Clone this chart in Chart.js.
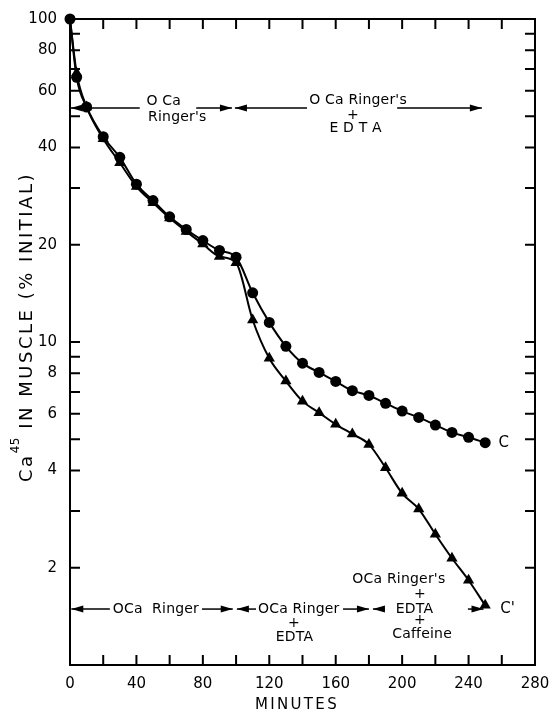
<!DOCTYPE html>
<html>
<head>
<meta charset="utf-8">
<script src="https://cdn.jsdelivr.net/npm/chart.js@4"></script>
<style>
html, body { margin: 0; padding: 0; background: #fff; }
#wrap { width: 552px; height: 713px; position: relative; }
</style>
</head>
<body>
<div id="wrap"><canvas id="chart"></canvas></div>
<script>
// time points (minutes) shared by both curves
const minutes = [0, 4, 10, 20, 30, 40, 50, 60, 70, 80, 90, 100, 110, 120, 130, 140, 150, 160, 170, 180, 190, 200, 210, 220, 230, 240, 250];
// curve C (circles): 0Ca Ringer's, then + EDTA
const seriesC = [100, 66, 53.4, 43.2, 37.3, 30.8, 27.4, 24.4, 22.3, 20.6, 19.2, 18.3, 14.2, 11.5, 9.7, 8.6, 8.05, 7.55, 7.07, 6.83, 6.46, 6.11, 5.84, 5.53, 5.25, 5.07, 4.88];
// curve C' (triangles): 0Ca Ringer, + EDTA, + EDTA + caffeine
const seriesCPrime = [100, 68, 53.4, 42.6, 35.9, 30.3, 27.0, 24.2, 22.0, 20.1, 18.4, 17.6, 11.7, 8.9, 7.57, 6.56, 6.04, 5.56, 5.19, 4.82, 4.08, 3.40, 3.04, 2.54, 2.14, 1.83, 1.53];

const xTickValues = [0, 20, 40, 60, 80, 100, 120, 140, 160, 180, 200, 220, 240, 260, 280];
const xLabelValues = [0, 40, 80, 120, 160, 200, 240, 280];
const yTickValues = [1, 2, 3, 4, 5, 6, 7, 8, 9, 10, 20, 30, 40, 50, 60, 70, 80, 90, 100];
const yLabelValues = [2, 4, 6, 8, 10, 20, 40, 60, 80, 100];

const FONT = '"DejaVu Sans", sans-serif';
Chart.defaults.font.family = FONT;
Chart.defaults.color = '#000';

function toPoints(values) {
    return minutes.map((t, i) => ({ x: t, y: values[i] }));
}

function hArrow(ctx, x1, x2, y, head) {
    ctx.beginPath();
    ctx.moveTo(x1, y);
    ctx.lineTo(x2, y);
    ctx.stroke();
    const tip = head === 'left' ? x1 : x2;
    const dir = head === 'left' ? -1 : 1;
    ctx.beginPath();
    ctx.moveTo(tip, y);
    ctx.lineTo(tip - dir * 12, y - 3.5);
    ctx.lineTo(tip - dir * 12, y + 3.5);
    ctx.closePath();
    ctx.fill();
}

function label(ctx, str, x, y, align) {
    ctx.textAlign = align;
    ctx.fillText(str, x, y);
}

// spread letters so that a string fills a given width
function spacingFor(ctx, str, width) {
    ctx.letterSpacing = '0px';
    const w = ctx.measureText(str).width;
    return Math.max(0, (width - w) / str.length);
}

// frame with inward ticks on all four sides
const framePlugin = {
    id: 'frame',
    beforeDatasetsDraw(chart) {
        const { ctx, chartArea: a, scales: { x, y } } = chart;
        ctx.save();
        ctx.strokeStyle = '#000';
        ctx.lineWidth = 2;
        ctx.strokeRect(a.left, a.top, a.right - a.left, a.bottom - a.top);
        ctx.beginPath();
        xTickValues.forEach(t => {
            const p = x.getPixelForValue(t);
            ctx.moveTo(p, a.bottom); ctx.lineTo(p, a.bottom - 10);
            ctx.moveTo(p, a.top); ctx.lineTo(p, a.top + 10);
        });
        yTickValues.forEach(v => {
            const p = y.getPixelForValue(v);
            ctx.moveTo(a.left, p); ctx.lineTo(a.left + 10, p);
            ctx.moveTo(a.right, p); ctx.lineTo(a.right - 10, p);
        });
        ctx.stroke();
        ctx.restore();
    },
    afterDraw(chart) {
        const { ctx, scales: { x, y } } = chart;
        const T = t => x.getPixelForValue(t);
        const V = v => y.getPixelForValue(v);
        ctx.save();
        ctx.strokeStyle = '#000';
        ctx.fillStyle = '#000';
        ctx.lineWidth = 1.5;
        ctx.font = '14px ' + FONT;
        ctx.letterSpacing = '0.2px';
        ctx.textBaseline = 'middle';

        // top row of treatment arrows
        const yTop = V(53);
        hArrow(ctx, T(0.5), T(42), yTop, 'left');
        label(ctx, 'O Ca', T(46), yTop - 7, 'left');
        label(ctx, "Ringer's", T(47), yTop + 9, 'left');
        hArrow(ctx, T(76), T(97.5), yTop, 'right');
        hArrow(ctx, T(99.3), T(142.7), yTop, 'left');
        label(ctx, "O Ca Ringer's", T(144), yTop - 8, 'left');
        label(ctx, '+', T(170.4), yTop + 7, 'center');
        label(ctx, 'E D T A', T(172), yTop + 20, 'center');
        hArrow(ctx, T(197), T(248), yTop, 'right');

        // bottom row of treatment arrows
        const yBot = V(1.49);
        hArrow(ctx, T(0.8), T(24), yBot, 'left');
        label(ctx, 'OCa  Ringer', T(25.8), yBot, 'left');
        hArrow(ctx, T(79.5), T(98), yBot, 'right');
        hArrow(ctx, T(100.5), T(112), yBot, 'left');
        label(ctx, 'OCa Ringer', T(113.2), yBot, 'left');
        hArrow(ctx, T(164.4), T(180), yBot, 'right');
        label(ctx, '+', T(134.9), yBot + 14, 'center');
        label(ctx, 'EDTA', T(135.2), yBot + 28, 'center');
        hArrow(ctx, T(182.4), T(189.6), yBot, 'left');
        label(ctx, "OCa Ringer's", T(198), yBot - 30, 'center');
        label(ctx, '+', T(210.7), yBot - 15, 'center');
        label(ctx, 'EDTA', T(207.4), yBot, 'center');
        label(ctx, '+', T(210.7), yBot + 11, 'center');
        label(ctx, 'Caffeine', T(212), yBot + 25, 'center');
        hArrow(ctx, T(239.6), T(249), yBot, 'right');

        // curve names
        ctx.font = '15px ' + FONT;
        label(ctx, 'C', T(258), V(seriesC[seriesC.length - 1]), 'left');
        label(ctx, "C'", T(259), yBot, 'left');

        // x axis title
        ctx.font = '15px ' + FONT;
        ctx.letterSpacing = spacingFor(ctx, 'MINUTES', 84) + 'px';
        label(ctx, 'MINUTES', 297, 705, 'center');

        // y axis title with superscript isotope number
        ctx.translate(27, 327);
        ctx.rotate(-Math.PI / 2);
        ctx.textAlign = 'left';
        const rest = ' IN MUSCLE (% INITIAL)';
        ctx.font = '12px ' + FONT;
        ctx.letterSpacing = '0.5px';
        const wSup = ctx.measureText('45').width;
        ctx.font = '18px ' + FONT;
        const sp = spacingFor(ctx, 'Ca' + rest, 310 - wSup);
        ctx.letterSpacing = sp + 'px';
        const wCa = ctx.measureText('Ca').width;
        const wRest = ctx.measureText(rest).width;
        const start = -(wCa + wSup + wRest) / 2;
        ctx.fillText('Ca', start, 0);
        ctx.font = '12px ' + FONT;
        ctx.letterSpacing = '0.5px';
        ctx.fillText('45', start + wCa, -11);
        ctx.font = '18px ' + FONT;
        ctx.letterSpacing = sp + 'px';
        ctx.fillText(rest, start + wCa + wSup, 0);
        ctx.restore();
    }
};

new Chart(document.getElementById('chart'), {
    type: 'line',
    data: {
        datasets: [
            {
                label: 'C',
                data: toPoints(seriesC),
                borderColor: '#000',
                backgroundColor: '#000',
                borderWidth: 2,
                pointStyle: 'circle',
                pointRadius: 5.5,
                pointBorderWidth: 0,
                cubicInterpolationMode: 'monotone',
                clip: false
            },
            {
                label: "C'",
                data: toPoints(seriesCPrime),
                borderColor: '#000',
                backgroundColor: '#000',
                borderWidth: 2,
                pointStyle: 'triangle',
                pointRadius: minutes.map((t, i) => i === 0 ? 0 : 6.5),
                pointBorderWidth: 0,
                cubicInterpolationMode: 'monotone',
                clip: false
            }
        ]
    },
    options: {
        responsive: true,
        maintainAspectRatio: false,
        animation: false,
        layout: { padding: { top: 19, right: 17, left: 0, bottom: 0 } },
        plugins: { legend: { display: false }, tooltip: { enabled: false } },
        scales: {
            x: {
                type: 'linear',
                min: 0,
                max: 280,
                grid: { display: false },
                border: { display: false },
                afterBuildTicks: s => { s.ticks = xTickValues.map(v => ({ value: v })); },
                afterFit: s => { s.height = 48; },
                ticks: {
                    autoSkip: false,
                    maxRotation: 0,
                    padding: 2,
                    font: { size: 15 },
                    callback: v => xLabelValues.includes(v) ? String(v) : ''
                }
            },
            y: {
                type: 'logarithmic',
                min: 1,
                max: 100,
                grid: { display: false },
                border: { display: false },
                afterBuildTicks: s => { s.ticks = yTickValues.map(v => ({ value: v })); },
                afterFit: s => { s.width = 70; },
                ticks: {
                    autoSkip: false,
                    padding: 5,
                    font: { size: 15 },
                    callback: v => yLabelValues.includes(v) ? String(v) : ''
                }
            }
        }
    },
    plugins: [framePlugin]
});
</script>
</body>
</html>
